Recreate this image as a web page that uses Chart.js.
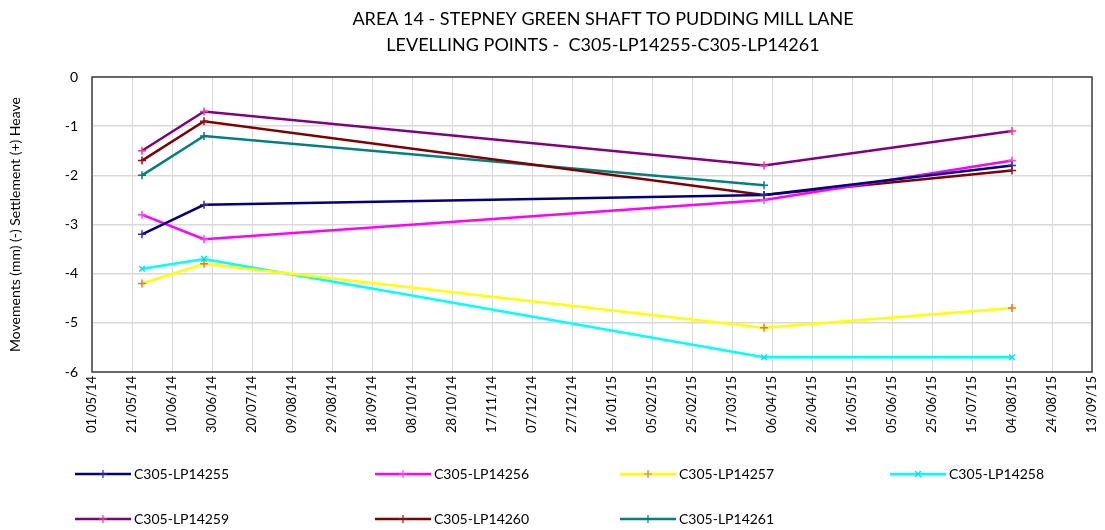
<!DOCTYPE html>
<html>
<head>
<meta charset="utf-8">
<script src="https://cdn.jsdelivr.net/npm/chart.js@4.4.1/dist/chart.umd.min.js"></script>
<style>
html,body{margin:0;padding:0;background:#fff;}
#wrap{position:relative;width:1105px;height:530px;}
</style>
</head>
<body>
<div id="wrap"><canvas id="c" width="1105" height="530"></canvas></div>
<script>
const titleLines = ["AREA 14 - STEPNEY GREEN SHAFT TO PUDDING MILL LANE", "LEVELLING POINTS -  C305-LP14255-C305-LP14261"];
const yAxisTitle = "Movements (mm) (-) Settlement (+) Heave";
const tickLabels = ["01/05/14","21/05/14","10/06/14","30/06/14","20/07/14","09/08/14","29/08/14","18/09/14","08/10/14","28/10/14","17/11/14","07/12/14","27/12/14","16/01/15","05/02/15","25/02/15","17/03/15","06/04/15","26/04/15","16/05/15","05/06/15","25/06/15","15/07/15","04/08/15","24/08/15","13/09/15"];
const surveyDates = ["2014-05-26","2014-06-26","2015-04-02","2015-08-04"];
const seriesNames = ["C305-LP14255","C305-LP14256","C305-LP14257","C305-LP14258","C305-LP14259","C305-LP14260","C305-LP14261"];
const lp14255 = [-3.2, -2.6, -2.4, -1.8];
const lp14256 = [-2.8, -3.3, -2.5, -1.7];
const lp14257 = [-4.2, -3.8, -5.1, -4.7];
const lp14258 = [-3.9, -3.7, -5.7, -5.7];
const lp14259 = [-1.5, -0.7, -1.8, -1.1];
const lp14260 = [-1.7, -0.9, -2.4, -1.9];
const lp14261 = [-2.0, -1.2, -2.2, null];

const lineColors = ["#000080","#FF00FF","#FFFF00","#00FFFF","#800080","#800000","#008080"];
const markerColors = ["#3030A0","#FF40FF","#F07820","#00E0FF","#FF3399","#A01010","#008080"];
const markerStyles = ["cross","cross","cross","crossRot","cross","cross","cross"];
const allValues = [lp14255, lp14256, lp14257, lp14258, lp14259, lp14260, lp14261];

const startMs = Date.UTC(2014,4,1);
function dayOffset(iso){ const p = iso.split('-').map(Number); return Math.round((Date.UTC(p[0],p[1]-1,p[2]) - startMs)/86400000); }
const xDays = surveyDates.map(dayOffset);

const FONT = "Lato, 'Liberation Sans', sans-serif";

const datasets = allValues.map((vals, i) => ({
  label: seriesNames[i],
  data: vals.map((v, j) => v === null ? null : {x: xDays[j], y: v}).filter(p => p !== null),
  borderColor: lineColors[i],
  backgroundColor: lineColors[i],
  borderWidth: 2.5,
  pointStyle: markerStyles[i],
  pointRadius: 4,
  pointBorderColor: markerColors[i],
  pointBorderWidth: 1.5,
  pointHoverRadius: 4,
  tension: 0,
  fill: false
}));

const titlePlugin = {
  id: 'centredTitle',
  afterDraw(chart){
    const ctx = chart.ctx;
    ctx.save();
    ctx.font = "18px " + FONT;
    ctx.fillStyle = '#000';
    ctx.textAlign = 'center';
    ctx.textBaseline = 'middle';
    ctx.fillText(titleLines[0], 603, 19);
    ctx.fillText(titleLines[1], 603, 45);
    ctx.restore();
  }
};

const legendPlugin = {
  id: 'gridLegend',
  afterDraw(chart){
    const ctx = chart.ctx;
    const colX = [75, 375, 620, 890];
    const rowY = [474, 519];
    ctx.save();
    ctx.font = "14px " + FONT;
    ctx.textBaseline = 'middle';
    ctx.textAlign = 'left';
    chart.data.datasets.forEach((ds, i) => {
      const x = colX[i % 4], y = rowY[Math.floor(i / 4)];
      ctx.strokeStyle = ds.borderColor;
      ctx.lineWidth = 2.5;
      ctx.beginPath(); ctx.moveTo(x, y); ctx.lineTo(x + 56, y); ctx.stroke();
      ctx.strokeStyle = ds.pointBorderColor;
      ctx.lineWidth = 1.2;
      const cx = x + 28;
      ctx.beginPath();
      if (ds.pointStyle === 'crossRot') {
        ctx.moveTo(cx-3, y-3); ctx.lineTo(cx+3, y+3); ctx.moveTo(cx+3, y-3); ctx.lineTo(cx-3, y+3);
      } else {
        ctx.moveTo(cx, y-4); ctx.lineTo(cx, y+4); ctx.moveTo(cx-4, y); ctx.lineTo(cx+4, y);
      }
      ctx.stroke();
      ctx.fillStyle = '#000';
      ctx.fillText(ds.label, x + 59, y);
    });
    ctx.restore();
  }
};

const borderPlugin = {
  id: 'plotBorder',
  afterDatasetsDraw(chart){
    const a = chart.chartArea, ctx = chart.ctx;
    ctx.save();
    ctx.strokeStyle = '#404040';
    ctx.lineWidth = 1.5;
    ctx.strokeRect(a.left, a.top, a.right - a.left, a.bottom - a.top);
    ctx.restore();
  }
};

new Chart(document.getElementById('c'), {
  type: 'line',
  data: { datasets },
  plugins: [titlePlugin, legendPlugin, borderPlugin],
  options: {
    responsive: false,
    animation: false,
    layout: { padding: { left: 0, right: 13, top: 77, bottom: 0 } },
    plugins: {
      legend: { display: false },
      tooltip: { enabled: false },
      title: { display: false }
    },
    scales: {
      x: {
        type: 'linear',
        min: 0, max: 500,
        afterFit(scale){ scale.height = 158; scale.paddingLeft = 0; scale.paddingRight = 0; },
        afterBuildTicks(scale){ scale.ticks = tickLabels.map((t, i) => ({ value: i * 20 })); },
        ticks: {
          stepSize: 20,
          autoSkip: false,
          minRotation: 90, maxRotation: 90,
          color: '#000',
          font: { family: FONT, size: 13 },
          padding: 4,
          callback: (v, i) => tickLabels[i]
        },
        grid: { color: '#d9d9d9', lineWidth: 1, drawTicks: true, tickLength: 0 },
        border: { display: false }
      },
      y: {
        type: 'linear',
        min: -6, max: 0,
        afterFit(scale){ scale.width = 92; },
        ticks: { stepSize: 1, color: '#000', font: { family: FONT, size: 14 }, padding: 14 },
        grid: { color: '#d9d9d9', lineWidth: 1.5, tickLength: 0 },
        border: { display: false },
        title: { display: true, text: yAxisTitle, color: '#000', font: { family: FONT, size: 14 }, padding: { top: 7, bottom: 4 } }
      }
    }
  }
});
</script>
</body>
</html>
